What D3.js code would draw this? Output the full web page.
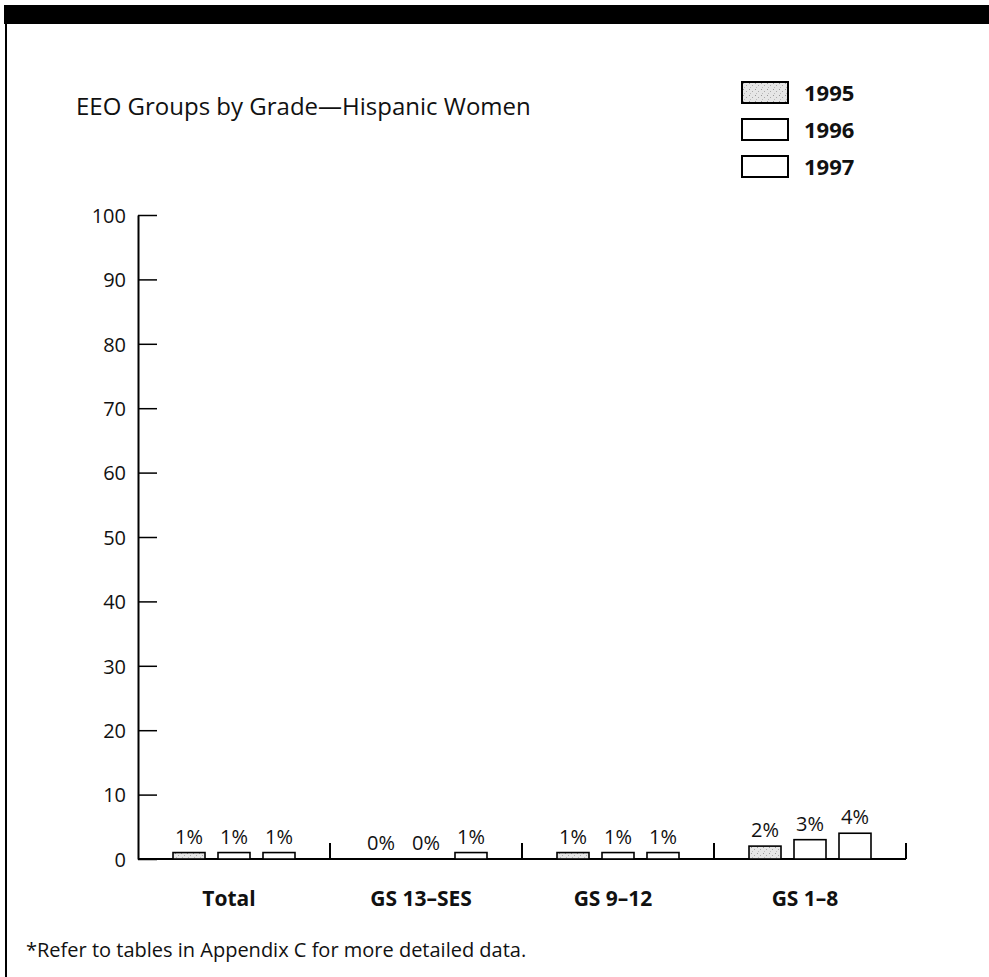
<!DOCTYPE html>
<html>
<head>
<meta charset="utf-8">
<script src="https://cdn.jsdelivr.net/npm/d3@7"></script>
<style>
  html, body { margin: 0; padding: 0; background: #fff; }
  svg { display: block; }
  text { font-family: "Open Sans", Lato, sans-serif; fill: #111; }
</style>
</head>
<body>
<svg id="chart" width="989" height="977"></svg>
<script>
// Share of Hispanic women in each EEO grade group, by year (percent)
const categories = ["Total", "GS 13\u2013SES", "GS 9\u201312", "GS 1\u20138"];
const years = ["1995", "1996", "1997"];
const values1995 = [1, 0, 1, 2];
const values1996 = [1, 0, 1, 3];
const values1997 = [1, 1, 1, 4];
const yTicks = [0, 10, 20, 30, 40, 50, 60, 70, 80, 90, 100];
const title = "EEO Groups by Grade\u2014Hispanic Women";
const footnote = "*Refer to tables in Appendix C for more detailed data.";

const series = { "1995": values1995, "1996": values1996, "1997": values1997 };
const rows = categories.map((c, i) => ({
  category: c,
  bars: years.map(y => ({ year: y, value: series[y][i] }))
}));

const svg = d3.select("#chart");

// stippled fill for the 1995 bars
const defs = svg.append("defs");
const pat = defs.append("pattern")
  .attr("id", "stipple")
  .attr("patternUnits", "userSpaceOnUse")
  .attr("width", 6).attr("height", 6);
pat.append("rect").attr("width", 6).attr("height", 6).attr("fill", "#e6e6e6");
pat.append("rect").attr("x", 1).attr("y", 1).attr("width", 1).attr("height", 1).attr("fill", "#999");
pat.append("rect").attr("x", 4).attr("y", 3).attr("width", 1).attr("height", 1).attr("fill", "#aaa");
pat.append("rect").attr("x", 2).attr("y", 5).attr("width", 1).attr("height", 1).attr("fill", "#bbb");

const fillFor = { "1995": "url(#stipple)", "1996": "#fff", "1997": "#fff" };

// page frame: heavy top rule and a left border
svg.append("rect").attr("x", 4).attr("y", 5).attr("width", 985).attr("height", 19).attr("fill", "#000");
svg.append("line").attr("x1", 6).attr("x2", 6).attr("y1", 24).attr("y2", 977)
  .attr("stroke", "#000").attr("stroke-width", 2);

// title
svg.append("text").attr("x", 76).attr("y", 115)
  .attr("font-size", 24).text(title);

// legend
const legend = svg.append("g").selectAll("g").data(years).join("g")
  .attr("transform", (d, i) => `translate(742, ${82 + i * 37})`);
legend.append("rect").attr("width", 46).attr("height", 21)
  .attr("fill", d => fillFor[d]).attr("stroke", "#000").attr("stroke-width", 2);
legend.append("text").attr("x", 62).attr("y", 19)
  .attr("font-size", 22).attr("font-weight", "bold").text(d => d);

// scales
const x0 = d3.scaleBand().domain(categories).range([138, 906]);
const x1 = d3.scaleBand().domain(years).range([0, x0.bandwidth()])
  .paddingInner(13 / 45).paddingOuter(0.778);
const y = d3.scaleLinear().domain([0, 100]).range([859, 215]);

// y axis with ticks pointing into the plot
const yAxis = d3.axisLeft(y).tickValues(yTicks).tickSizeInner(-19).tickSizeOuter(0).tickPadding(12);
const gy = svg.append("g").attr("transform", "translate(138,0)").call(yAxis);
gy.select(".domain").attr("stroke", "#000").attr("stroke-width", 2);
gy.selectAll(".tick line").attr("stroke", "#000").attr("stroke-width", 1.5);
gy.selectAll(".tick text").attr("font-size", 20)
  .attr("font-family", "'Open Sans', sans-serif").attr("fill", "#111")
  .attr("dy", "0.36em");

// baseline and group separators
svg.append("line").attr("x1", 138).attr("x2", 906).attr("y1", y(0)).attr("y2", y(0))
  .attr("stroke", "#000").attr("stroke-width", 2);
svg.append("g").selectAll("line").data(categories).join("line")
  .attr("x1", d => x0(d) + x0.bandwidth()).attr("x2", d => x0(d) + x0.bandwidth())
  .attr("y1", y(0)).attr("y2", y(0) - 16)
  .attr("stroke", "#000").attr("stroke-width", 2);

// bars and value labels
const groups = svg.append("g").selectAll("g").data(rows).join("g")
  .attr("transform", d => `translate(${x0(d.category)},0)`);
groups.selectAll("rect").data(d => d.bars.filter(b => b.value > 0)).join("rect")
  .attr("x", d => x1(d.year))
  .attr("y", d => y(d.value))
  .attr("width", x1.bandwidth())
  .attr("height", d => y(0) - y(d.value))
  .attr("fill", d => fillFor[d.year])
  .attr("stroke", "#000").attr("stroke-width", 1.6);
groups.selectAll("text.val").data(d => d.bars).join("text")
  .attr("class", "val")
  .attr("x", d => x1(d.year) + x1.bandwidth() / 2)
  .attr("y", d => y(d.value) - 9)
  .attr("text-anchor", "middle")
  .attr("font-size", 20)
  .text(d => d.value + "%");

// category labels
svg.append("g").selectAll("text").data(categories).join("text")
  .attr("x", d => x0(d) + x0.bandwidth() / 2 - 5)
  .attr("y", 906)
  .attr("text-anchor", "middle")
  .attr("font-size", 21).attr("font-weight", "bold")
  .text(d => d);

// footnote
svg.append("text").attr("x", 26).attr("y", 957)
  .attr("font-size", 20).text(footnote);
</script>
</body>
</html>
